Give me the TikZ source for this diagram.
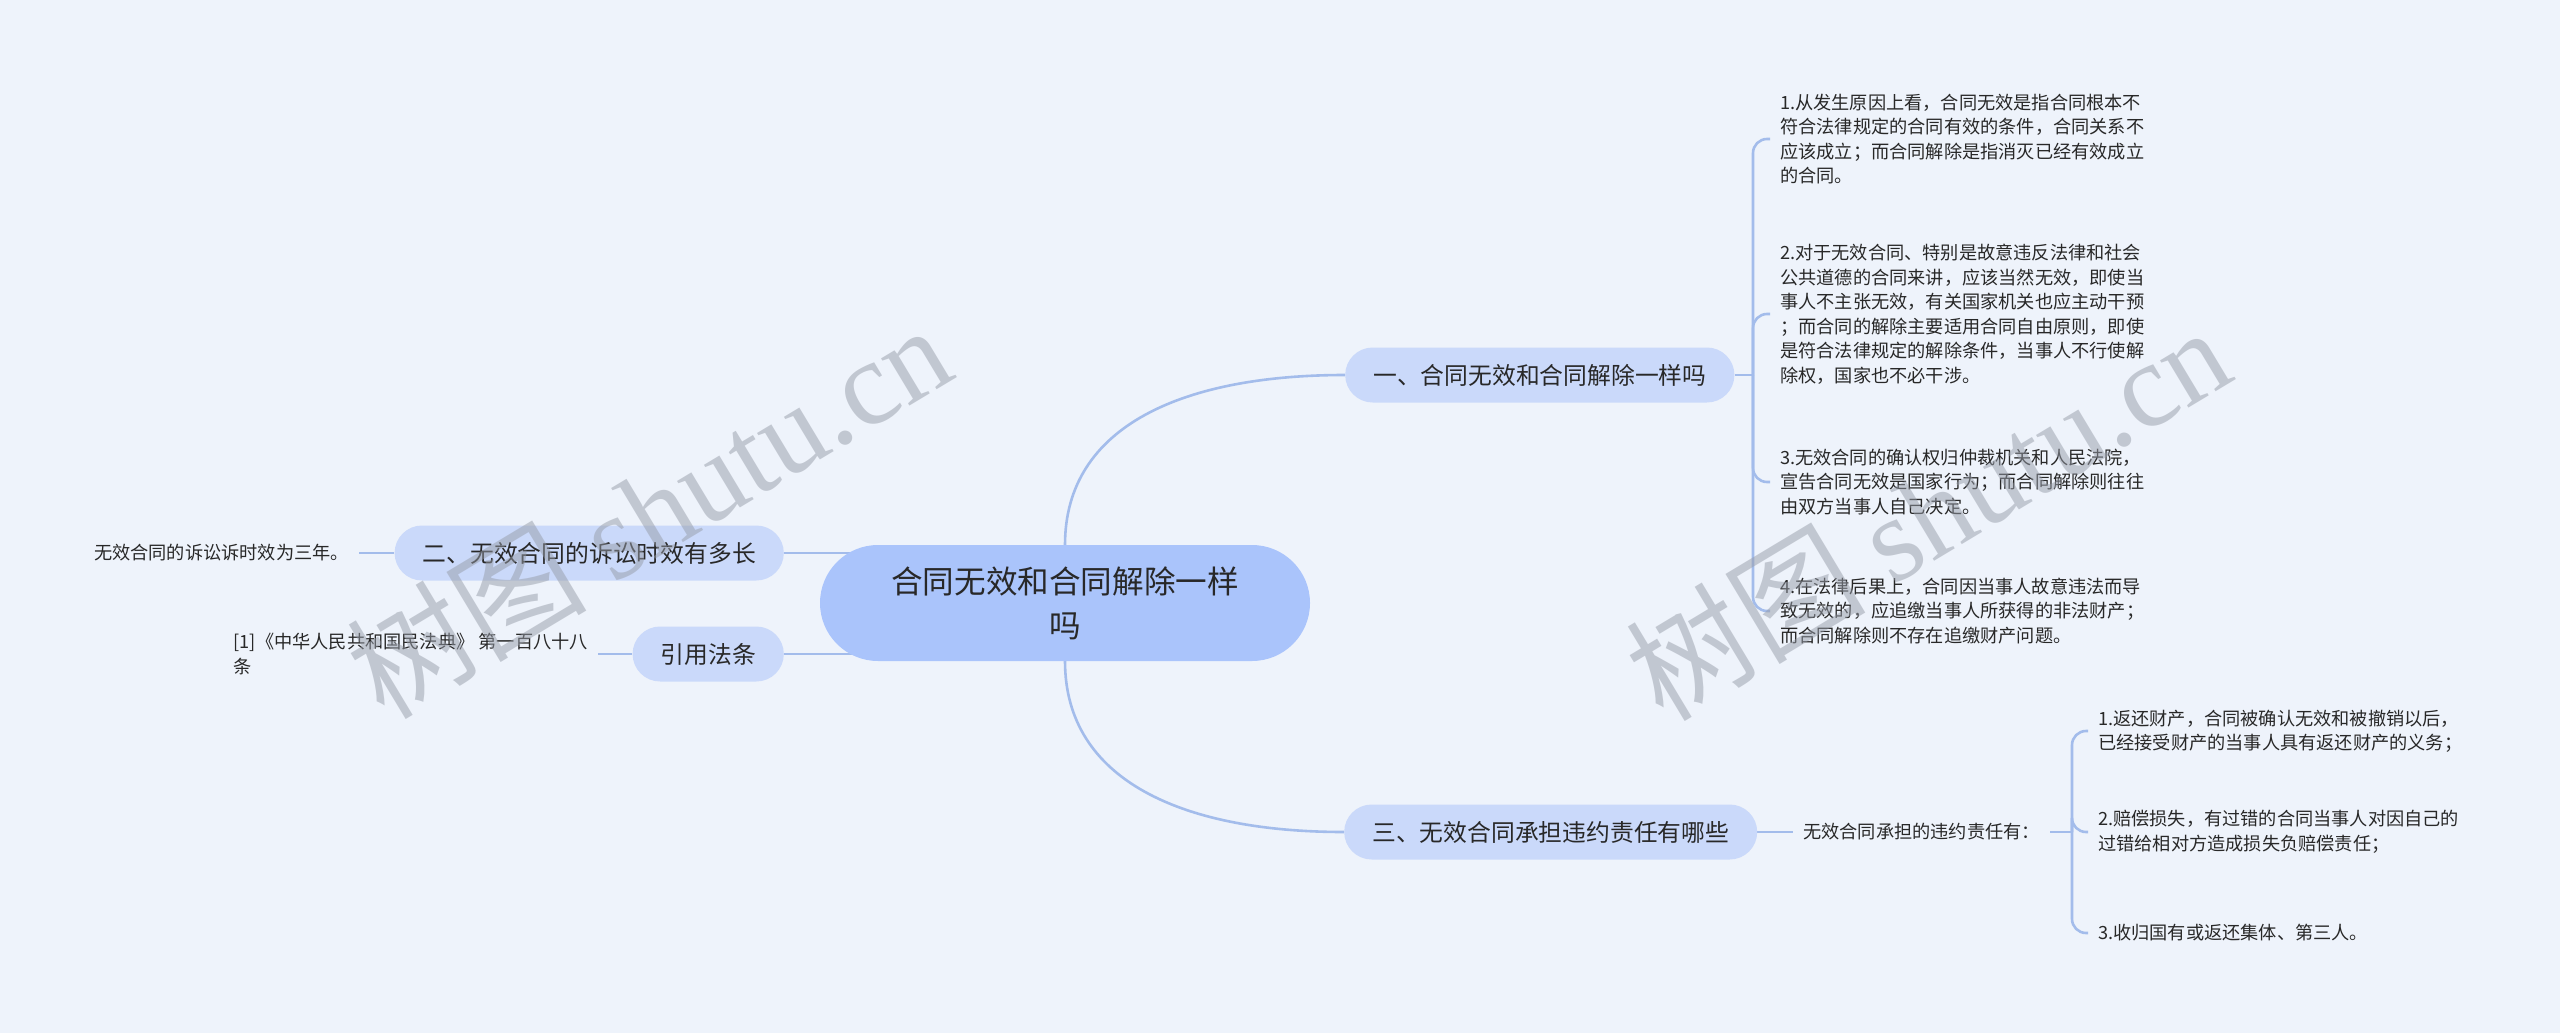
\documentclass[tikz,border=0pt]{standalone}
\usepackage{fontspec}
\setmainfont{Noto Sans CJK SC}
\newfontfamily\wmlatin{Liberation Serif}
\usetikzlibrary{backgrounds}
\definecolor{bgpaper}{RGB}{238,243,251}
\definecolor{linkblue}{RGB}{163,188,235}
\definecolor{rootfill}{RGB}{170,196,251}
\definecolor{topicfill}{RGB}{202,217,250}
\definecolor{inkgray}{RGB}{40,40,40}
\definecolor{wmgray}{RGB}{150,156,168}

\begin{document}
\begin{tikzpicture}[x=1pt, y=-1pt,
    link/.style={draw=linkblue, line width=2.6pt},
    root/.style={fill=rootfill, rounded corners=58pt, minimum width=490pt,
      minimum height=116pt, align=center, text=inkgray,
      font=\fontsize{31.6}{44}\selectfont},
    topic/.style={fill=topicfill, rounded corners=27.5pt, minimum height=55pt,
      inner xsep=28pt, text=inkgray, font=\fontsize{23.8}{28}\selectfont},
    leaf/.style={inner xsep=10pt, inner ysep=2pt, align=left, text=inkgray,
      font=\fontsize{18.2}{24.5}\selectfont},
    wmark/.style={text=wmgray, opacity=0.5, rotate=31, inner sep=0pt}
  ]
  \useasboundingbox (0,0) rectangle (2560,1033);

  \node[root] (root) at (1065,603) {合同无效和合同解除一样\\吗};

  % topics
  \node[topic, anchor=west] (t1) at (1345,375) {一、合同无效和合同解除一样吗};
  \node[topic, anchor=west] (t3) at (1344,832) {三、无效合同承担违约责任有哪些};
  \node[topic, anchor=east] (t2) at (784,553) {二、无效合同的诉讼时效有多长};
  \node[topic, anchor=east] (t4) at (784,654) {引用法条};

  % leaves of t1
  \node[leaf, anchor=west] (a1) at (1770,139) {1.从发生原因上看，合同无效是指合同根本不\\符合法律规定的合同有效的条件，合同关系不\\应该成立；而合同解除是指消灭已经有效成立\\的合同。};
  \node[leaf, anchor=west] (a2) at (1770,314) {2.对于无效合同、特别是故意违反法律和社会\\公共道德的合同来讲，应该当然无效，即使当\\事人不主张无效，有关国家机关也应主动干预\\；而合同的解除主要适用合同自由原则，即使\\是符合法律规定的解除条件，当事人不行使解\\除权，国家也不必干涉。};
  \node[leaf, anchor=west] (a3) at (1770,482) {3.无效合同的确认权归仲裁机关和人民法院，\\宣告合同无效是国家行为；而合同解除则往往\\由双方当事人自己决定。};
  \node[leaf, anchor=west] (a4) at (1770,611) {4.在法律后果上，合同因当事人故意违法而导\\致无效的，应追缴当事人所获得的非法财产；\\而合同解除则不存在追缴财产问题。};
  \coordinate (j1) at (1753,375);

  % leaves of t3
  \node[leaf, anchor=west] (c0) at (1793,832) {无效合同承担的违约责任有：};
  \node[leaf, anchor=west] (c1) at (2088,731) {1.返还财产，合同被确认无效和被撤销以后，\\已经接受财产的当事人具有返还财产的义务；};
  \node[leaf, anchor=west] (c2) at (2088,832) {2.赔偿损失，有过错的合同当事人对因自己的\\过错给相对方造成损失负赔偿责任；};
  \node[leaf, anchor=west] (c3) at (2088,933) {3.收归国有或返还集体、第三人。};
  \coordinate (j3) at (2072,832);

  % leaves on the left
  \node[leaf, anchor=east] (b1) at (359,553) {无效合同的诉讼诉时效为三年。};
  \node[leaf, anchor=east] (d1) at (598,654) {[1]《中华人民共和国民法典》 第一百八十八\\条};

  \begin{scope}[on background layer]
    \fill[bgpaper] (0,0) rectangle (2560,1033);
    \draw[link] (root.north) .. controls +(0,-120) and +(-160,0) .. (t1.west);
    \draw[link] (root.south) .. controls +(0,120) and +(-160,0) .. (t3.west);
    \draw[link] (t2.east) -- (t2.east -| root.center);
    \draw[link] (t4.east) -- (t4.east -| root.center);
    \draw[link] (t1.east) -- (j1);
    \foreach \n in {a1,a2,a3,a4}
      \draw[link, rounded corners=14pt] (j1) |- (\n.west);
    \draw[link] (t3.east) -- (c0.west);
    \draw[link] (c0.east) -- (j3);
    \foreach \n in {c1,c2,c3}
      \draw[link, rounded corners=14pt] (j3) |- (\n.west);
    \draw[link] (b1.east) -- (t2.west);
    \draw[link] (d1.east) -- (t4.west);
  \end{scope}

  % watermark
  \node[wmark] (wm1) at (648,510) {\fontsize{120}{120}\selectfont 树图 {\wmlatin shutu.cn}};
  \node[wmark] (wm2) at (1927,512) {\fontsize{120}{120}\selectfont 树图 {\wmlatin shutu.cn}};
\end{tikzpicture}
\end{document}
